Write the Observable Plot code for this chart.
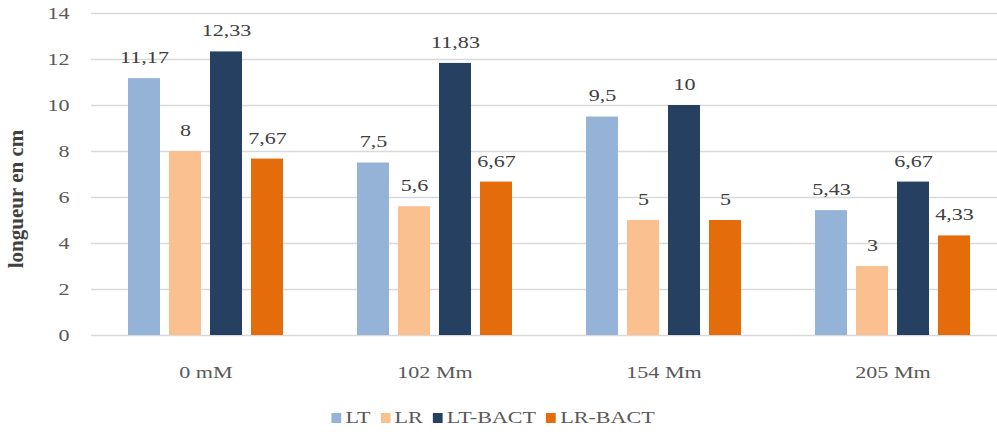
<!DOCTYPE html>
<html>
<head>
<meta charset="utf-8">
<script src="https://cdn.jsdelivr.net/npm/d3@7"></script>
<script src="https://cdn.jsdelivr.net/npm/@observablehq/plot@0.6"></script>
<style>
  body { margin: 0; background: #fff; }
  #chart { width: 997px; overflow: hidden; }
  body .lg-swatches {
    justify-content: center;
    font-family: "Liberation Serif", "Times New Roman", serif !important;
    font-size: 17px !important;
    color: #595959;
    margin-top: 6px;
    margin-bottom: 0 !important;
    transform: scaleX(1.3);
    transform-origin: 50% 50%;
  }
  body .lg-swatch { margin-right: 8px !important; }
  body .lg-swatch > svg { margin-right: 3px !important; }
</style>
</head>
<body>
<div id="chart"></div>
<script>
// Salt concentrations (groups along the x axis)
const categories = ["0 mM", "102 Mm", "154 Mm", "205 Mm"];
// Measured series, one value per concentration
const series = ["LT", "LR", "LT-BACT", "LR-BACT"];
const lt = [11.17, 7.5, 9.5, 5.43];
const lr = [8, 5.6, 5, 3];
const ltBact = [12.33, 11.83, 10, 6.67];
const lrBact = [7.67, 6.67, 5, 4.33];
const yTicks = [0, 2, 4, 6, 8, 10, 12, 14];
const colors = ["#95B3D7", "#FAC090", "#254061", "#E46C0A"];

const valuesBySeries = [lt, lr, ltBact, lrBact];
const rows = [];
categories.forEach((cat, i) => {
  series.forEach((s, j) => rows.push({cat, series: s, value: valuesBySeries[j][i]}));
});
const fmt = v => String(v).replace(".", ",");

const svg = Plot.plot({
  width: 997,
  height: 395,
  marginTop: 13,
  marginBottom: 60,
  marginLeft: 90,
  marginRight: 0,
  style: {
    fontFamily: "'Liberation Serif', 'Times New Roman', serif",
    fontSize: "17px",
    color: "#595959",
    background: "#fff",
    overflow: "hidden"
  },
  fx: {domain: categories, range: [90, 1008], padding: 0, axis: "bottom", tickSize: 0, tickPadding: 30, label: null},
  x: {domain: series, paddingInner: 0.22, paddingOuter: 0.888, axis: null},
  y: {domain: [0, 14], ticks: yTicks, tickSize: 0, tickPadding: 22, label: null, axis: "left"},
  color: {domain: series, range: colors},
  marks: [
    Plot.gridY(yTicks, {stroke: "#d9d9d9", strokeOpacity: 1, strokeWidth: 1.4}),
    Plot.barY(rows, {fx: "cat", x: "series", y: "value", fill: "series"}),
    Plot.text(rows, {fx: "cat", x: "series", y: "value", text: d => fmt(d.value), dy: -21, fill: "#404040"})
  ]
});

// Widen the serif labels horizontally around their anchor point
d3.select(svg).selectAll("text").each(function() {
  const t = this.getAttribute("transform");
  if (t) {
    this.setAttribute("transform", t + " scale(1.3,1)");
  } else {
    const x = +this.getAttribute("x") || 0, y = +this.getAttribute("y") || 0;
    this.setAttribute("x", 0);
    this.setAttribute("y", 0);
    this.setAttribute("transform", `translate(${x},${y}) scale(1.3,1)`);
  }
});

// Rotated y-axis title
d3.select(svg).append("text")
  .attr("transform", "translate(23,199) rotate(-90)")
  .attr("text-anchor", "middle")
  .attr("font-size", "21px")
  .attr("font-weight", "bold")
  .attr("fill", "#404040")
  .text("longueur en cm");

const legend = Plot.legend({
  color: {domain: series, range: colors},
  swatchWidth: 7.5,
  swatchHeight: 10,
  className: "lg"
});

const chart = document.getElementById("chart");
chart.appendChild(svg);
chart.appendChild(legend);
</script>
</body>
</html>
